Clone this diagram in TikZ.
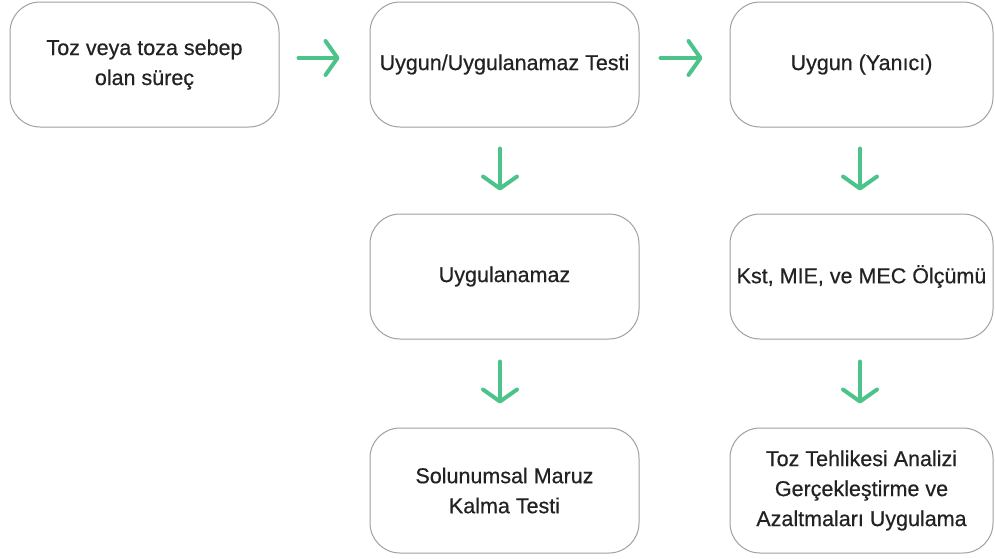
\documentclass[tikz,border=0pt]{standalone}
\usepackage{fontspec}
\setmainfont{Liberation Sans}[UprightFeatures={FakeBold=0.5}]
\usetikzlibrary{arrows.meta}
\definecolor{boxline}{HTML}{A0A0A0}
\definecolor{arrowgreen}{HTML}{4CC38A}
\definecolor{txt}{HTML}{222222}
\begin{document}
\begin{tikzpicture}[x=1pt,y=-1pt,
  stepbox/.style={draw=boxline,line width=1pt,rounded corners=30pt,fill=white,
    minimum width=269pt,minimum height=125pt,align=center,text=txt,
    font=\fontsize{21.5}{30}\selectfont,inner sep=0pt},
  flow/.style={draw=arrowgreen,line width=4pt,line cap=round,
    -{Straight Barb[length=12pt,width=34pt,line width=4pt,round]}}]
\useasboundingbox (0,0) rectangle (995,558);
\node[stepbox] (a) at (144.5,64.5) {Toz veya toza sebep\\olan süreç};
\node[stepbox] (b) at (504.5,64.5) {Uygun/Uygulanamaz Testi};
\node[stepbox,minimum width=263pt] (c) at (861.5,64.5) {Uygun (Yanıcı)};
\node[stepbox] (d) at (504.5,276.5) {Uygulanamaz};
\node[stepbox,minimum width=263pt] (e) at (861.5,276.5) {Kst, MIE, ve MEC Ölçümü};
\node[stepbox] (f) at (504.5,490.5) {Solunumsal Maruz\\Kalma Testi};
\node[stepbox,minimum width=263pt] (g) at (861.5,490.5) {Toz Tehlikesi Analizi\\Gerçekleştirme ve\\Azaltmaları Uygulama};
\draw[flow] ([xshift=19pt,yshift=6.5pt]a.east) -- ([xshift=60pt,yshift=6.5pt]a.east);
\draw[flow] ([xshift=21pt,yshift=6.5pt]b.east) -- ([xshift=63pt,yshift=6.5pt]b.east);
\draw[flow] ([yshift=-21pt,xshift=-4.5pt]b.south) -- ([yshift=-63pt,xshift=-4.5pt]b.south);
\draw[flow] ([yshift=-21pt,xshift=-1.5pt]c.south) -- ([yshift=-63pt,xshift=-1.5pt]c.south);
\draw[flow] ([yshift=-22pt,xshift=-4.5pt]d.south) -- ([yshift=-64pt,xshift=-4.5pt]d.south);
\draw[flow] ([yshift=-22pt,xshift=-1.5pt]e.south) -- ([yshift=-64pt,xshift=-1.5pt]e.south);
\end{tikzpicture}
\end{document}
